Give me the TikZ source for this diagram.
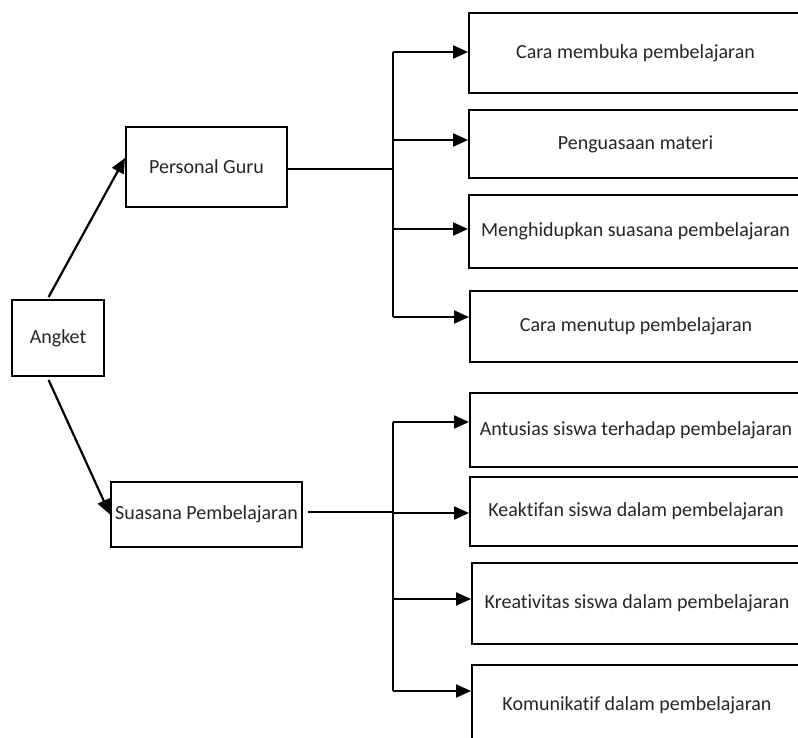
\documentclass[tikz,border=0pt]{standalone}
\usepackage{fontspec}
\setmainfont{Carlito}[Ligatures=NoCommon]
\usetikzlibrary{arrows.meta,calc}
\begin{document}
\begin{tikzpicture}[x=1pt,y=-1pt,
  box/.style={draw=black, line width=2pt, inner sep=0pt, align=center,
    font=\fontsize{20}{24}\selectfont, text=black!85},
  conn/.style={line width=2.2pt},
  arr/.style={conn,-{Triangle[length=15pt,width=13pt]}}]
\useasboundingbox (0,0) rectangle (798,738);
\clip (0,0) rectangle (798,738);
\fill[white] (0,0) rectangle (798,738);

% left part
\node[box, minimum width=92pt, minimum height=76pt] (ang) at (58,338) {Angket};
\node[box, minimum width=161pt, minimum height=80pt] (pg) at (206.5,167) {Personal Guru};
\node[box, minimum width=191pt, minimum height=65pt] (sp) at (206.5,514.5) {Suasana Pembelajaran};

% right boxes
\node[box, minimum width=333pt, minimum height=80pt] (b1) at (635.5,53) {Cara membuka pembelajaran};
\node[box, minimum width=333pt, minimum height=68pt] (b2) at (635.5,144) {Penguasaan materi};
\node[box, minimum width=333pt, minimum height=73pt] (b3) at (635.5,231.5) {Menghidupkan suasana pembelajaran};
\node[box, minimum width=332pt, minimum height=71pt] (b4) at (636,326.5) {Cara menutup pembelajaran};
\node[box, minimum width=332pt, minimum height=74pt] (b5) at (636,430) {Antusias siswa terhadap pembelajaran};
\node[box, minimum width=332pt, minimum height=69pt] (b6) at (636,511.5) {Keaktifan siswa dalam pembelajaran};
\node[box, minimum width=330pt, minimum height=81pt] (b7) at (637,603.5) {Kreativitas siswa dalam pembelajaran};
\node[box, minimum width=330pt, minimum height=80pt] (b8) at (637,705) {Komunikatif dalam pembelajaran};

% arrows from Angket
\draw[arr] ($(ang.north west)!0.4!(ang.north east)+(0,-2)$) -- ($(pg.north west)!0.39!(pg.south west)$);
\draw[arr] ($(ang.south west)!0.4!(ang.south east)+(0,3)$) -- (sp.west);

% upper tree
\coordinate (t1) at (393,52);
\coordinate (t2) at (393,140);
\coordinate (t3) at (393,229);
\coordinate (t4) at (393,317);
\coordinate (tj) at (393,169);
\draw[conn] (pg.east |- tj) -- (tj);
\draw[conn] (t1) -- (t4);
\foreach \i in {1,2,3,4} \draw[arr] (t\i) -- (t\i -| b\i.west);

% lower tree
\coordinate (u5) at (393,422);
\coordinate (u6) at (393,513);
\coordinate (u7) at (393,599);
\coordinate (u8) at (393,691);
\coordinate (uj) at (393,512);
\draw[conn] ([xshift=5pt]sp.east |- uj) -- (uj);
\draw[conn] (u5) -- (u8);
\foreach \i in {5,6,7,8} \draw[arr] (u\i) -- (u\i -| b\i.west);
\end{tikzpicture}
\end{document}
